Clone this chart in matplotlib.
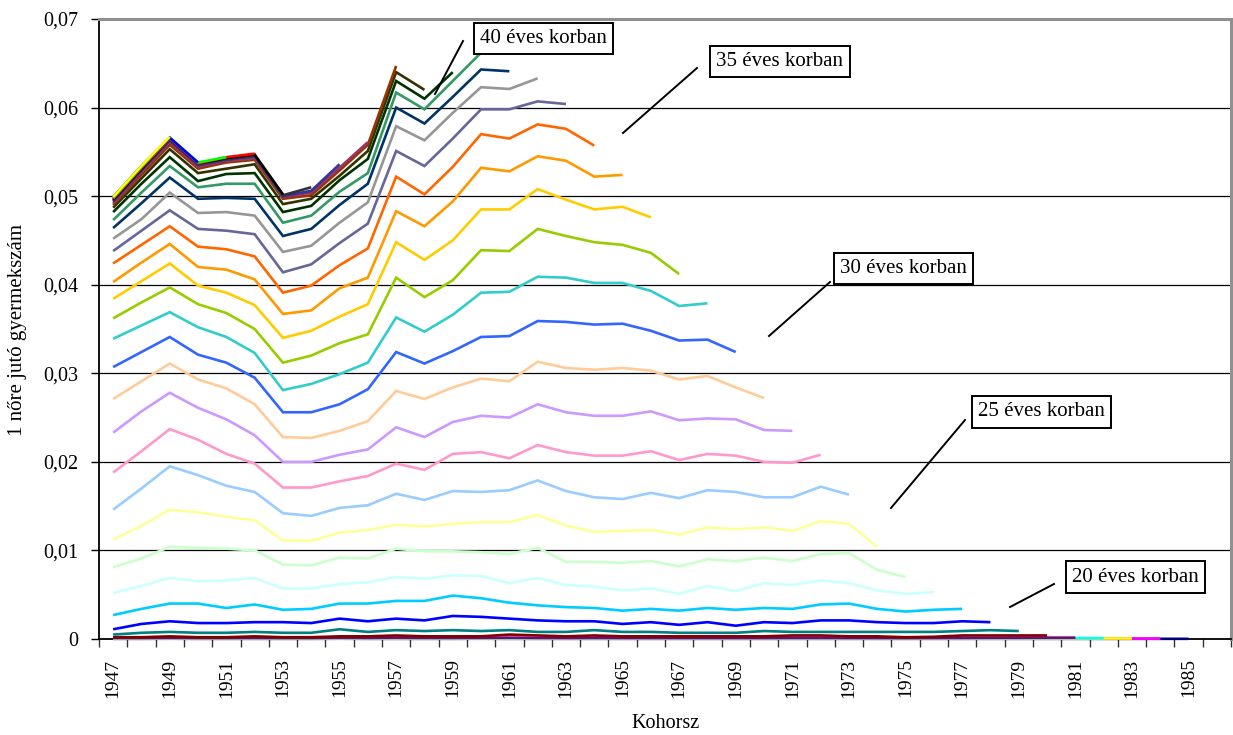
import matplotlib
matplotlib.use("Agg")
import matplotlib.pyplot as plt
from matplotlib.lines import Line2D
from matplotlib.ticker import FuncFormatter
import numpy as np

plt.rcParams['font.family'] = ['Liberation Serif', 'DejaVu Serif']

# Birth cohorts on the category axis
cohorts = list(range(1947, 1987))
tick_labels = [str(c) if (c - 1947) % 2 == 0 else '' for c in cohorts]

# Values per age; every series starts with the 1947 cohort
age_14 = [0.00002, 0.00002, 0.00003, 0.00002, 0.00002, 0.00002, 0.00002, 0.00002, 0.00003, 0.00002,
          0.00002, 0.00002, 0.00002, 0.00003, 0.00002, 0.00002, 0.00002, 0.00002, 0.00002, 0.00002,
          0.00002, 0.00002, 0.00002, 0.00002, 0.00002, 0.00002, 0.00002, 0.00002, 0.00002, 0.00002,
          0.00002, 0.00002, 0.00002, 0.00002, 0.00002, 0.00002, 0.00002, 0.00002, 0.00002]
age_15 = [0.00004, 0.00004, 0.00005, 0.00004, 0.00004, 0.00004, 0.00004, 0.00004, 0.00005, 0.00004,
          0.00004, 0.00004, 0.00004, 0.00005, 0.00004, 0.00004, 0.00004, 0.00004, 0.00004, 0.00004,
          0.00004, 0.00004, 0.00004, 0.00004, 0.00004, 0.00004, 0.00004, 0.00004, 0.00004, 0.00004,
          0.00004, 0.00004, 0.00004, 0.00004, 0.00004, 0.00004, 0.00004, 0.00004]
age_16 = [0.00006, 0.00006, 0.00007, 0.00006, 0.00006, 0.00006, 0.00006, 0.00006, 0.00007, 0.00006,
          0.00006, 0.00006, 0.00006, 0.00007, 0.00006, 0.00006, 0.00006, 0.00006, 0.00006, 0.00006,
          0.00006, 0.00006, 0.00006, 0.00006, 0.00006, 0.00006, 0.00006, 0.00006, 0.00006, 0.00006,
          0.00006, 0.00006, 0.00006, 0.00006, 0.00006, 0.00006, 0.00006]
age_17 = [0.00009, 0.00009, 0.0001, 0.00009, 0.00009, 0.00009, 0.00009, 0.00009, 0.0001, 0.00009,
          0.0001, 0.00009, 0.00009, 0.0001, 0.00009, 0.00009, 0.00009, 0.00009, 0.00009, 0.00009,
          0.00009, 0.00009, 0.00009, 0.00009, 0.00009, 0.00009, 0.00009, 0.00009, 0.00009, 0.00009,
          0.00009, 0.00009, 0.00009, 0.00009, 0.0001, 0.0001]
age_18 = [0.00012, 0.00012, 0.00014, 0.00012, 0.00012, 0.00013, 0.00012, 0.00012, 0.00015, 0.00013,
          0.00015, 0.00013, 0.00013, 0.00014, 0.00015, 0.00013, 0.00012, 0.00013, 0.00012, 0.00012,
          0.00012, 0.00012, 0.00012, 0.00012, 0.00013, 0.00013, 0.00012, 0.00012, 0.00011, 0.00012,
          0.00013, 0.00014, 0.00014, 0.00015, 0.00015]
age_19 = [0.0002, 0.0002, 0.0003, 0.0002, 0.0002, 0.0003, 0.0002, 0.0002, 0.0003, 0.0003,
          0.0004, 0.0003, 0.0003, 0.0003, 0.0005, 0.0004, 0.0003, 0.0004, 0.0003, 0.0003,
          0.0003, 0.0003, 0.0003, 0.0003, 0.0004, 0.0004, 0.0003, 0.0003, 0.0002, 0.00025,
          0.0004, 0.0004, 0.0004, 0.0004]
age_20 = [0.0005, 0.0007, 0.0008, 0.0007, 0.0007, 0.0008, 0.0007, 0.0007, 0.0011, 0.0008,
          0.0010, 0.0009, 0.0010, 0.0009, 0.0010, 0.0008, 0.0008, 0.0010, 0.0008, 0.0008,
          0.0007, 0.0007, 0.0007, 0.0009, 0.0008, 0.0008, 0.0008, 0.0008, 0.0008, 0.0008,
          0.0009, 0.0010, 0.0009]
age_21 = [0.0011, 0.0017, 0.0020, 0.0018, 0.0018, 0.0019, 0.0019, 0.0018, 0.0023, 0.0020,
          0.0023, 0.0021, 0.0026, 0.0025, 0.0023, 0.0021, 0.0020, 0.0020, 0.0017, 0.0019,
          0.0016, 0.0019, 0.0015, 0.0019, 0.0018, 0.0021, 0.0021, 0.0019, 0.0018, 0.0018,
          0.0020, 0.0019]
age_22 = [0.0027, 0.0034, 0.0040, 0.0040, 0.0035, 0.0039, 0.0033, 0.0034, 0.0040, 0.0040,
          0.0043, 0.0043, 0.0049, 0.0046, 0.0041, 0.0038, 0.0036, 0.0035, 0.0032, 0.0034,
          0.0032, 0.0035, 0.0033, 0.0035, 0.0034, 0.0039, 0.0040, 0.0034, 0.0031, 0.0033,
          0.0034]
age_23 = [0.0052, 0.0060, 0.0069, 0.0065, 0.0066, 0.0069, 0.0057, 0.0057, 0.0062, 0.0064,
          0.0070, 0.0068, 0.0072, 0.0071, 0.0063, 0.0069, 0.0061, 0.0059, 0.0055, 0.0057,
          0.0051, 0.0060, 0.0054, 0.0063, 0.0061, 0.0066, 0.0063, 0.0055, 0.0051, 0.0053]
age_24 = [0.0081, 0.0091, 0.0104, 0.0103, 0.0102, 0.0100, 0.0084, 0.0083, 0.0092, 0.0091,
          0.0102, 0.0099, 0.0099, 0.0098, 0.0096, 0.0103, 0.0087, 0.0087, 0.0086, 0.0088,
          0.0082, 0.0090, 0.0088, 0.0092, 0.0088, 0.0096, 0.0097, 0.0078, 0.0070]
age_25 = [0.0112, 0.0128, 0.0146, 0.0143, 0.0138, 0.0134, 0.0111, 0.0111, 0.0120, 0.0123,
          0.0129, 0.0127, 0.0130, 0.0132, 0.0132, 0.0140, 0.0128, 0.0121, 0.0122, 0.0123,
          0.0118, 0.0126, 0.0124, 0.0126, 0.0122, 0.0133, 0.0130, 0.0104]
age_26 = [0.0146, 0.0170, 0.0195, 0.0185, 0.0173, 0.0166, 0.0142, 0.0139, 0.0148, 0.0151,
          0.0164, 0.0157, 0.0167, 0.0166, 0.0168, 0.0179, 0.0167, 0.0160, 0.0158, 0.0165,
          0.0159, 0.0168, 0.0166, 0.0160, 0.0160, 0.0172, 0.0163]
age_27 = [0.0188, 0.0212, 0.0237, 0.0225, 0.0209, 0.0198, 0.0171, 0.0171, 0.0178, 0.0184,
          0.0198, 0.0191, 0.0209, 0.0211, 0.0204, 0.0219, 0.0211, 0.0207, 0.0207, 0.0212,
          0.0202, 0.0209, 0.0207, 0.0200, 0.0199, 0.0208]
age_28 = [0.0233, 0.0257, 0.0278, 0.0261, 0.0248, 0.0230, 0.0200, 0.0200, 0.0208, 0.0214,
          0.0239, 0.0228, 0.0245, 0.0252, 0.0250, 0.0265, 0.0256, 0.0252, 0.0252, 0.0257,
          0.0247, 0.0249, 0.0248, 0.0236, 0.0235]
age_29 = [0.0271, 0.0291, 0.0311, 0.0293, 0.0283, 0.0265, 0.0228, 0.0227, 0.0235, 0.0246,
          0.0280, 0.0271, 0.0284, 0.0294, 0.0291, 0.0313, 0.0306, 0.0304, 0.0306, 0.0303,
          0.0293, 0.0297, 0.0284, 0.0272]
age_30 = [0.0307, 0.0324, 0.0341, 0.0321, 0.0312, 0.0295, 0.0256, 0.0256, 0.0265, 0.0282,
          0.0324, 0.0311, 0.0325, 0.0341, 0.0342, 0.0359, 0.0358, 0.0355, 0.0356, 0.0348,
          0.0337, 0.0338, 0.0324]
age_31 = [0.0339, 0.0354, 0.0369, 0.0352, 0.0341, 0.0323, 0.0281, 0.0288, 0.0299, 0.0312,
          0.0363, 0.0347, 0.0366, 0.0391, 0.0392, 0.0409, 0.0408, 0.0402, 0.0402, 0.0393,
          0.0376, 0.0379]
age_32 = [0.0362, 0.0380, 0.0397, 0.0378, 0.0368, 0.0350, 0.0312, 0.0320, 0.0334, 0.0344,
          0.0408, 0.0386, 0.0405, 0.0439, 0.0438, 0.0463, 0.0455, 0.0448, 0.0445, 0.0436,
          0.0412]
age_33 = [0.0384, 0.0404, 0.0424, 0.0399, 0.0391, 0.0377, 0.0340, 0.0348, 0.0364, 0.0378,
          0.0448, 0.0428, 0.0450, 0.0485, 0.0485, 0.0508, 0.0496, 0.0485, 0.0488, 0.0476]
age_34 = [0.0403, 0.0425, 0.0446, 0.0420, 0.0417, 0.0406, 0.0367, 0.0371, 0.0396, 0.0408,
          0.0483, 0.0466, 0.0494, 0.0532, 0.0528, 0.0545, 0.0540, 0.0522, 0.0524]
age_35 = [0.0424, 0.0445, 0.0466, 0.0443, 0.0440, 0.0432, 0.0391, 0.0399, 0.0422, 0.0441,
          0.0522, 0.0502, 0.0533, 0.0570, 0.0565, 0.0581, 0.0576, 0.0557]
age_36 = [0.0438, 0.0461, 0.0484, 0.0463, 0.0461, 0.0457, 0.0414, 0.0423, 0.0447, 0.0469,
          0.0551, 0.0534, 0.0565, 0.0598, 0.0598, 0.0607, 0.0604]
age_37 = [0.0452, 0.0474, 0.0504, 0.0481, 0.0482, 0.0478, 0.0437, 0.0444, 0.0470, 0.0493,
          0.0579, 0.0563, 0.0594, 0.0623, 0.0621, 0.0633]
age_38 = [0.0464, 0.0492, 0.0521, 0.0497, 0.0498, 0.0497, 0.0455, 0.0463, 0.0490, 0.0514,
          0.0600, 0.0582, 0.0612, 0.0643, 0.0641]
age_39 = [0.0473, 0.0504, 0.0534, 0.0510, 0.0514, 0.0514, 0.0470, 0.0478, 0.0505, 0.0526,
          0.0617, 0.0598, 0.0630, 0.0662]
age_40 = [0.0482, 0.0514, 0.0544, 0.0517, 0.0525, 0.0526, 0.0482, 0.0489, 0.0518, 0.0542,
          0.0630, 0.0610, 0.0640]
age_41 = [0.0487, 0.0520, 0.0553, 0.0526, 0.0531, 0.0536, 0.0491, 0.0497, 0.0523, 0.0551,
          0.0640, 0.0620]
age_42 = [0.0490, 0.0524, 0.0558, 0.0531, 0.0538, 0.0541, 0.0497, 0.0501, 0.0529, 0.0558,
          0.0647]
age_43 = [0.0492, 0.0527, 0.0561, 0.0533, 0.0540, 0.0543, 0.0499, 0.0504, 0.0532, 0.0561]
age_44 = [0.0494, 0.0529, 0.0563, 0.0535, 0.0541, 0.0545, 0.0500, 0.0506, 0.0536]
age_45 = [0.0495, 0.0530, 0.0564, 0.0536, 0.0542, 0.0546, 0.0501, 0.0510]
age_46 = [0.0496, 0.0531, 0.0565, 0.0537, 0.0543, 0.0547, 0.0502]
age_47 = [0.0497, 0.0532, 0.0565, 0.0537, 0.0544, 0.0548]
age_48 = [0.0498, 0.0533, 0.0566, 0.0538, 0.0544]
age_49 = [0.0499, 0.0534, 0.0566, 0.0538]
age_50 = [0.0499, 0.0534, 0.0567]

series_colors = ['#000080', '#FF00FF', '#FFFF00', '#00FFFF', '#800080', '#800000', '#008080', '#0000FF',
                 '#00CCFF', '#CCFFFF', '#CCFFCC', '#FFFF99', '#99CCFF', '#FF99CC', '#CC99FF', '#FFCC99',
                 '#3366FF', '#33CCCC', '#99CC00', '#FFCC00', '#FF9900', '#FF6600', '#666699', '#969696',
                 '#003366', '#339966', '#003300', '#333300', '#993300', '#993366', '#333399', '#333333',
                 '#000000', '#FF0000', '#00FF00', '#0000FF', '#FFFF00']

series_values = [age_14, age_15, age_16, age_17, age_18, age_19, age_20, age_21, age_22, age_23,
                 age_24, age_25, age_26, age_27, age_28, age_29, age_30, age_31, age_32, age_33,
                 age_34, age_35, age_36, age_37, age_38, age_39, age_40, age_41, age_42, age_43,
                 age_44, age_45, age_46, age_47, age_48, age_49, age_50]

W, H = 1233, 735
fig = plt.figure(figsize=(W / 100, H / 100), dpi=100)
fig.patch.set_facecolor('white')
ax = fig.add_axes([99 / W, 1 - 639 / H, (1231 - 99) / W, (639 - 19) / H])

for side in ('top', 'right'):
    ax.spines[side].set_color('#909090')
    ax.spines[side].set_linewidth(2.2)
for side in ('left', 'bottom'):
    ax.spines[side].set_color('black')
    ax.spines[side].set_linewidth(1.3)
    ax.spines[side].set_zorder(2.5)

positions = np.arange(len(cohorts))
for vals, col in zip(series_values, series_colors):
    ax.plot(positions[:len(vals)], vals, color=col, lw=1.9, solid_joinstyle='miter',
            solid_capstyle='butt', zorder=3, clip_on=False)

ax.set_xlim(-0.5, len(cohorts) - 0.5)
ax.set_ylim(0, 0.07)

# horizontal gridlines
ax.set_yticks(np.arange(0, 0.0701, 0.01))
ax.yaxis.grid(True, color='black', lw=0.9)
ax.set_axisbelow(True)
ax.yaxis.set_major_formatter(FuncFormatter(lambda v, p: '0' if abs(v) < 1e-9 else f'{v:.2f}'.replace('.', ',')))
ax.tick_params(axis='y', direction='out', length=6, width=1, labelsize=14.5, pad=9, colors='black')

# category boundaries carry the tick marks, labels sit at category centres
ax.set_xticks(np.arange(-0.5, len(cohorts), 1.0))
ax.set_xticklabels([])
ax.set_xticks(positions, minor=True)
ax.set_xticklabels(tick_labels, minor=True, rotation=90)
ax.tick_params(axis='x', which='major', direction='out', length=6, width=1, color='#333333')
ax.tick_params(axis='x', which='minor', length=0, labelsize=14, pad=14)

fig.text(18 / W, 1 - 330 / H, '1 nőre jutó gyermekszám', rotation=90, ha='center', va='center', fontsize=15)
fig.text(666 / W, 1 - 728 / H, 'Kohorsz', ha='center', va='baseline', fontsize=14.5)

# age annotations with leader lines (figure pixel coordinates)
notes = [
    ('40 éves korban', (543.5, 38.7), ((463, 41), (435, 94))),
    ('35 éves korban', (780, 61.5), ((697, 68), (623, 133))),
    ('30 éves korban', (903.5, 268.5), ((830, 282), (769, 336))),
    ('25 éves korban', (1041.5, 412), ((965, 420), (891, 508))),
    ('20 éves korban', (1135.7, 577), ((1054, 584), (1010, 607))),
]
for text, (cx, cy), ((x0, y0), (x1, y1)) in notes:
    fig.text(cx / W, 1 - cy / H, text, ha='center', va='center', fontsize=15, zorder=6,
             bbox=dict(boxstyle='square,pad=0.3', fc='white', ec='black', lw=1.4))
    fig.add_artist(Line2D([x0 / W, x1 / W], [1 - y0 / H, 1 - y1 / H], color='black', lw=1.4, zorder=5))

fig.savefig('out.png', dpi=100, facecolor='white')
